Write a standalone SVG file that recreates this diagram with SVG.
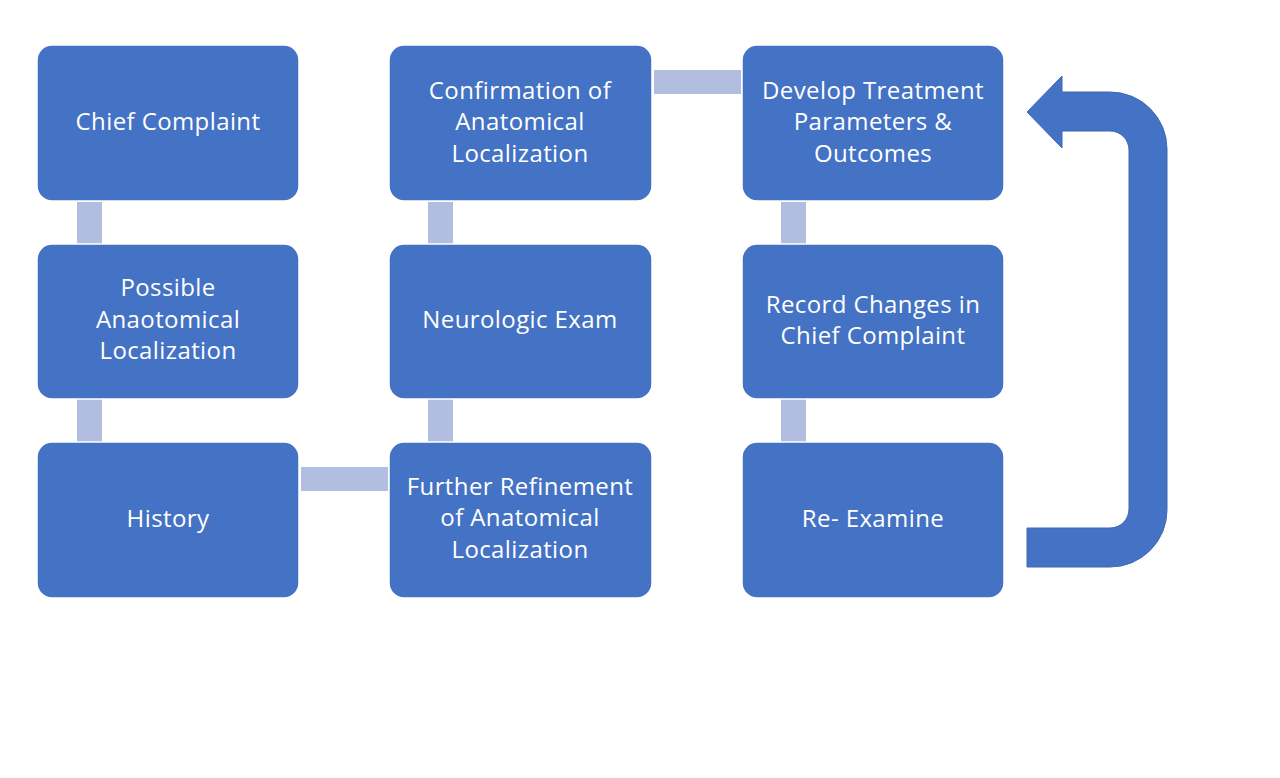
<svg xmlns="http://www.w3.org/2000/svg" width="1280" height="778" viewBox="0 0 1280 778">
<style>
.box{fill:#4472C4;stroke:#FFFFFF;stroke-width:1.5}
.lbl{fill:#FFFFFF;font-family:"Open Sans","Noto Sans","Liberation Sans",sans-serif;font-size:24px;letter-spacing:0.4px;text-anchor:middle}
.con{fill:#B1BEE0}
.arr{fill:#4472C4;stroke:#3E68B4;stroke-width:1}
</style>
<rect width="1280" height="778" fill="#FFFFFF"/>
<g id="connectors">
<rect class="con" x="77" y="202" width="25" height="42"/>
<rect class="con" x="77" y="399" width="25" height="43"/>
<rect class="con" x="301" y="467" width="87" height="24"/>
<rect class="con" x="428" y="399" width="25" height="43"/>
<rect class="con" x="428" y="202" width="25" height="42"/>
<rect class="con" x="654" y="70" width="87" height="24"/>
<rect class="con" x="781" y="202" width="25" height="42"/>
<rect class="con" x="781" y="399" width="25" height="43"/>
<path id="loop-arrow" class="arr" d="M1027,112 L1062,76 L1062,92 L1110,92 A57,57 0 0 1 1167,149 L1167,510 A57,57 0 0 1 1110,567 L1027,567 L1027,528 L1110,528 A19,19 0 0 0 1129,509 L1129,150 A19,19 0 0 0 1110,131 L1062,131 L1062,148 Z"/>
</g>
<g id="chief-complaint">
<rect class="box" x="37" y="45" width="262" height="156" rx="15"/>
<text class="lbl" x="168" y="130">Chief Complaint</text>
</g>
<g id="possible-localization">
<rect class="box" x="37" y="244" width="262" height="155" rx="15"/>
<text class="lbl" x="168" y="296">Possible</text>
<text class="lbl" x="168" y="328">Anaotomical</text>
<text class="lbl" x="168" y="359">Localization</text>
</g>
<g id="history">
<rect class="box" x="37" y="442" width="262" height="156" rx="15"/>
<text class="lbl" x="168" y="527">History</text>
</g>
<g id="confirmation">
<rect class="box" x="389" y="45" width="263" height="156" rx="15"/>
<text class="lbl" x="520" y="99">Confirmation of</text>
<text class="lbl" x="520" y="130">Anatomical</text>
<text class="lbl" x="520" y="162">Localization</text>
</g>
<g id="neurologic-exam">
<rect class="box" x="389" y="244" width="263" height="155" rx="15"/>
<text class="lbl" x="520" y="328">Neurologic Exam</text>
</g>
<g id="further-refinement">
<rect class="box" x="389" y="442" width="263" height="156" rx="15"/>
<text class="lbl" x="520" y="495">Further Refinement</text>
<text class="lbl" x="520" y="526">of Anatomical</text>
<text class="lbl" x="520" y="558">Localization</text>
</g>
<g id="develop-treatment">
<rect class="box" x="742" y="45" width="262" height="156" rx="15"/>
<text class="lbl" x="873" y="99">Develop Treatment</text>
<text class="lbl" x="873" y="130">Parameters &amp;</text>
<text class="lbl" x="873" y="162">Outcomes</text>
</g>
<g id="record-changes">
<rect class="box" x="742" y="244" width="262" height="155" rx="15"/>
<text class="lbl" x="873" y="313">Record Changes in</text>
<text class="lbl" x="873" y="344">Chief Complaint</text>
</g>
<g id="re-examine">
<rect class="box" x="742" y="442" width="262" height="156" rx="15"/>
<text class="lbl" x="873" y="527">Re- Examine</text>
</g>
</svg>
